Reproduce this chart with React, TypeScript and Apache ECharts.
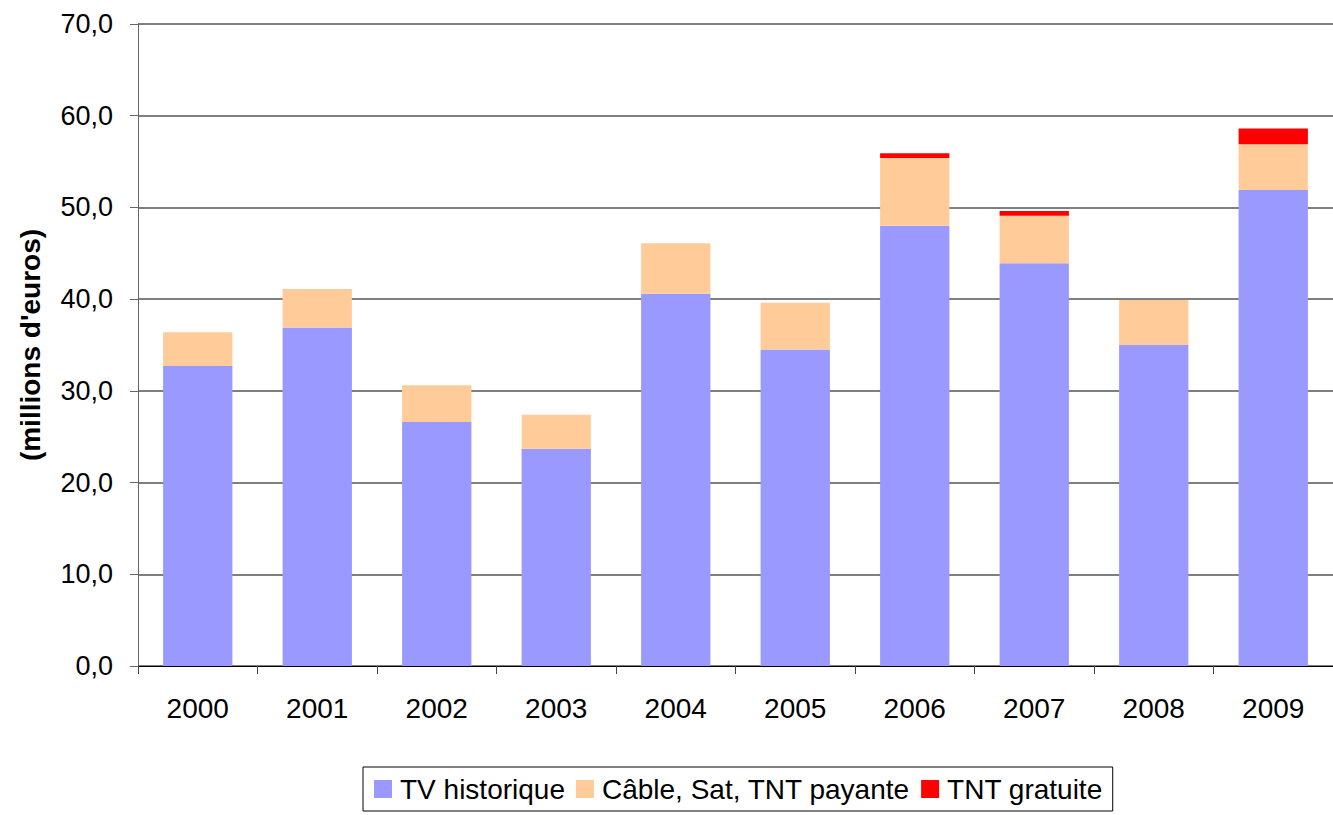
import React, { useEffect, useRef } from "react";
import * as echarts from "echarts";

const years = ["2000", "2001", "2002", "2003", "2004", "2005", "2006", "2007", "2008", "2009"];
const tvHistorique = [32.7, 36.9, 26.6, 23.7, 40.6, 34.5, 48.0, 43.9, 35.0, 51.9];
const cableSatTnt = [3.7, 4.2, 4.0, 3.7, 5.5, 5.1, 7.4, 5.2, 4.9, 5.0];
const tntGratuite = [0, 0, 0, 0, 0, 0, 0.5, 0.5, 0, 1.7];

const FONT = "'Liberation Sans', Arial, sans-serif";

export default function App() {
  const ref = useRef<HTMLDivElement>(null);
  useEffect(() => {
    if (!ref.current) return;
    const chart = echarts.init(ref.current, null, { renderer: "svg" });
    chart.setOption({
      animation: false,
      textStyle: { fontFamily: FONT },
      grid: { left: 138, right: 0, top: 24, bottom: 149, containLabel: false },
      legend: {
        left: 363,
        top: 767,
        itemWidth: 18,
        itemHeight: 18,
        itemGap: 11,
        icon: "rect",
        borderColor: "#000",
        borderWidth: 1,
        padding: [8, 10, 8, 11],
        textStyle: { fontSize: 28, color: "#000", fontFamily: FONT, padding: [0, 0, 0, 3] },
        data: ["TV historique", "Câble, Sat, TNT payante", "TNT gratuite"],
      },
      xAxis: {
        type: "category",
        data: years,
        axisLine: { lineStyle: { color: "#000", width: 1 } },
        axisTick: { show: true, length: 8, lineStyle: { color: "#444" } },
        axisLabel: { fontSize: 28, color: "#000", margin: 28, fontFamily: FONT },
      },
      yAxis: {
        type: "value",
        min: 0,
        max: 70,
        interval: 10,
        name: "(millions d'euros)",
        nameLocation: "middle",
        nameGap: 94,
        nameTextStyle: { fontSize: 28, fontWeight: "bold", color: "#000", fontFamily: FONT },
        axisLine: { show: true, lineStyle: { color: "#666" } },
        axisTick: { show: true, length: 8, lineStyle: { color: "#666" } },
        splitLine: { show: true, lineStyle: { color: "#555", width: 1.5 } },
        axisLabel: {
          fontSize: 27,
          color: "#000",
          margin: 25,
          fontFamily: FONT,
          formatter: (v: number) => v.toFixed(1).replace(".", ","),
        },
      },
      series: [
        {
          name: "TV historique",
          type: "bar",
          stack: "total",
          barWidth: "58%",
          itemStyle: { color: "#9999FF" },
          data: tvHistorique,
        },
        {
          name: "Câble, Sat, TNT payante",
          type: "bar",
          stack: "total",
          itemStyle: { color: "#FFCC99" },
          data: cableSatTnt,
        },
        {
          name: "TNT gratuite",
          type: "bar",
          stack: "total",
          itemStyle: { color: "#FF0000" },
          data: tntGratuite,
        },
      ],
    });
    return () => chart.dispose();
  }, []);
  return <div ref={ref} style={{ width: 1333, height: 815, position: "absolute", left: 0, top: 0 }} />;
}
